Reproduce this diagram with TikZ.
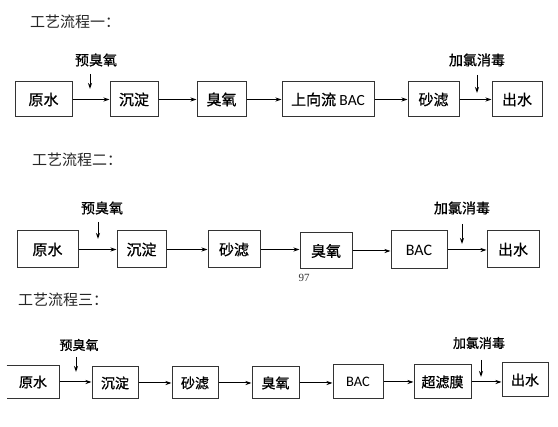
\documentclass[tikz,border=0pt]{standalone}
\usepackage{fontspec}
\setmainfont{Carlito}
\newfontfamily\cjk{Noto Sans CJK SC}
\newfontfamily\cjkb[FakeBold=0.8]{Noto Sans CJK SC}
\newfontfamily\serifnum{Liberation Serif}
\usetikzlibrary{arrows.meta}
\begin{document}
\begin{tikzpicture}[x=1pt,y=-1pt,
  box/.style={draw=black!80,line width=1pt,inner sep=0pt,font=\cjkb\fontsize{15}{15}\selectfont},
  boxc/.style={box,font=\cjkb\fontsize{14}{14}\selectfont},
  arr/.style={line width=1pt,-{Stealth[length=6pt,width=4pt]}},
  lbl/.style={font=\cjkb\fontsize{14}{14}\selectfont,inner sep=0pt},
  ttl/.style={font=\cjk\fontsize{15}{15}\selectfont,text=black!85,inner sep=0pt,anchor=west},
]
\useasboundingbox (0,0) rectangle (558,427);
\fill[white] (0,0) rectangle (558,427);

% ---------- Row 1 ----------
\node[ttl] (t1) at (30,22) {工艺流程一：};
\node[box,minimum width=57pt,minimum height=35pt] (a1) at (43.5,99.5) {原水};
\node[box,minimum width=48pt,minimum height=35pt] (b1) at (134,99.5) {沉淀};
\node[box,minimum width=49pt,minimum height=35pt] (c1) at (221.5,99.5) {臭氧};
\node[box,minimum width=92pt,minimum height=35pt] (d1) at (328,99.5) {上向流 {\rmfamily\fontsize{15.5}{15.5}\selectfont BAC}};
\node[box,minimum width=51pt,minimum height=35pt] (e1) at (433.5,99.5) {砂滤};
\node[box,minimum width=50pt,minimum height=35pt] (f1) at (517,99.5) {出水};
\draw[arr] (a1) -- (b1);
\draw[arr] (b1) -- (c1);
\draw[arr] (c1) -- (d1);
\draw[arr] (d1) -- (e1);
\draw[arr] (e1) -- (f1);
\node[lbl] (pl1) at (96,60) {预臭氧};
\coordinate (pt1) at (90,74);
\coordinate (pb1) at (90,89);
\draw[arr] (pt1) -- (pb1);
\node[lbl] (ql1) at (477,60) {加氯消毒};
\coordinate (qt1) at (477,75);
\coordinate (qb1) at (477,93);
\draw[arr] (qt1) -- (qb1);

% ---------- Row 2 ----------
\node[ttl] (t2) at (32,160) {工艺流程二：};
\node[box,minimum width=61pt,minimum height=37pt] (a2) at (47.5,249.5) {原水};
\node[box,minimum width=49pt,minimum height=37pt] (b2) at (141.5,249.5) {沉淀};
\node[box,minimum width=52pt,minimum height=37pt] (c2) at (234,249.5) {砂滤};
\node[box,minimum width=52pt,minimum height=36pt] (d2) at (326,251) {臭氧};
\node[box,minimum width=56pt,minimum height=38pt] (e2) at (419,250) {\rmfamily\fontsize{16}{16}\selectfont BAC};
\node[box,minimum width=52pt,minimum height=37pt] (f2) at (513,249.5) {出水};
\draw[arr] (a2.east) -- (a2.east -| b2.west);
\draw[arr] (b2.east) -- (b2.east -| c2.west);
\draw[arr] (c2.east) -- (c2.east -| d2.west);
\draw[arr] (d2.east) -- (d2.east -| e2.west);
\draw[arr] (e2.east) -- (e2.east -| f2.west);
\node[lbl] (pl2) at (102,208) {预臭氧};
\coordinate (pt2) at (98,222);
\coordinate (pb2) at (98,239);
\draw[arr] (pt2) -- (pb2);
\node[lbl] (ql2) at (462,208) {加氯消毒};
\coordinate (qt2) at (462,224);
\coordinate (qb2) at (462,244);
\draw[arr] (qt2) -- (qb2);
\node[font=\serifnum\fontsize{11}{11}\selectfont,inner sep=0pt,text=black!80] (n97) at (304,278) {97};

% ---------- Row 3 ----------
\node[ttl] (t3) at (18,300) {工艺流程三：};
\node[boxc,draw=none,minimum width=52pt,minimum height=32pt] (a3) at (33,382) {原水};
\draw[black!80,line width=1pt] (a3.north west) -- (a3.north east) -- (a3.south east) -- (a3.south west);
\node[boxc,minimum width=46pt,minimum height=32pt] (b3) at (115,383) {沉淀};
\node[boxc,minimum width=46pt,minimum height=32pt] (c3) at (195,383) {砂滤};
\node[boxc,minimum width=47pt,minimum height=32pt] (d3) at (275.5,383) {臭氧};
\node[boxc,minimum width=50pt,minimum height=34pt] (e3) at (358,382) {\rmfamily\fontsize{14.5}{14.5}\selectfont BAC};
\node[boxc,minimum width=57pt,minimum height=34pt] (f3) at (442.5,382) {超滤膜};
\node[boxc,minimum width=46pt,minimum height=34pt] (g3) at (525,380) {出水};
\draw[arr] (a3.east) -- (a3.east -| b3.west);
\draw[arr] (b3.east) -- (b3.east -| c3.west);
\draw[arr] (c3.east) -- (c3.east -| d3.west);
\draw[arr] (d3.east) -- (d3.east -| e3.west);
\draw[arr] (e3.east) -- (e3.east -| f3.west);
\draw[arr] (f3.east) -- (f3.east -| g3.west);
\node[lbl,font=\cjkb\fontsize{13}{13}\selectfont] (pl3) at (79,345) {预臭氧};
\coordinate (pt3) at (76,357);
\coordinate (pb3) at (76,372);
\draw[arr] (pt3) -- (pb3);
\node[lbl,font=\cjkb\fontsize{13}{13}\selectfont] (ql3) at (479,343) {加氯消毒};
\coordinate (qt3) at (481,360);
\coordinate (qb3) at (481,377);
\draw[arr] (qt3) -- (qb3);
\end{tikzpicture}
\end{document}
